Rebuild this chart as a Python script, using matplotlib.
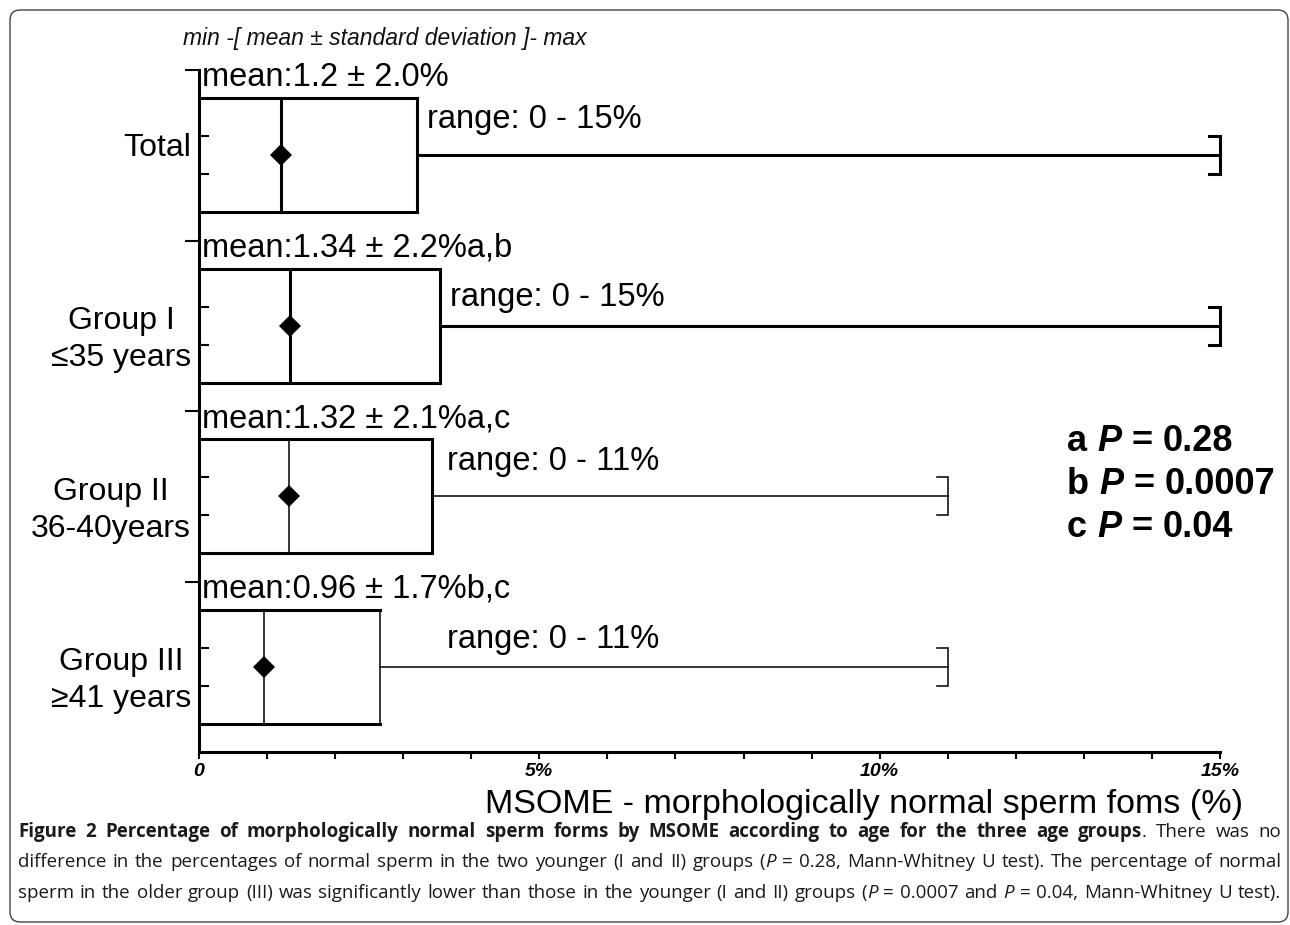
import re
import matplotlib
matplotlib.use('Agg')
import matplotlib.pyplot as plt
from matplotlib import font_manager
from matplotlib.patches import FancyBboxPatch
from matplotlib.ticker import MultipleLocator, FixedLocator
import matplotlib.transforms as mtransforms

# ---------------- data ----------------
groups = ['Total', 'Group I\n≤35 years', 'Group II\n36-40years', 'Group III\n≥41 years']
means = [1.2, 1.34, 1.32, 0.96]
sds = [2.0, 2.2, 2.1, 1.7]
mins = [0, 0, 0, 0]
maxs = [15, 15, 11, 11]
sig_letters = ['', 'a,b', 'a,c', 'b,c']
p_letters = ['a', 'b', 'c']
p_values = ['0.28', '0.0007', '0.04']
xtick_vals = [0, 5, 10, 15]
xtick_labels = ['0', '5%', '10%', '15%']
title_text = 'min -[ mean ± standard deviation ]- max'
xlabel_text = 'MSOME - morphologically normal sperm foms (%)'
caption_lines = [
    '<b>Figure 2 Percentage of morphologically normal sperm forms by MSOME according to age for the three age groups</b>. There was no',
    'difference in the percentages of normal sperm in the two younger (I and II) groups (<i>P</i> = 0.28, Mann-Whitney U test). The percentage of normal',
    'sperm in the older group (III) was significantly lower than those in the younger (I and II) groups (<i>P</i> = 0.0007 and <i>P</i> = 0.04, Mann-Whitney U test).',
]

# ---------------- fonts ----------------
avail = {f.name for f in font_manager.fontManager.ttflist}
def pick(*names):
    for n in names:
        if n in avail:
            return n
    return 'DejaVu Sans'
MAIN = pick('Liberation Sans', 'Arial', 'DejaVu Sans')
NARROW = pick('Liberation Sans Narrow', 'Liberation Sans')
CAP = pick('Open Sans', 'Noto Sans', 'DejaVu Sans')

W, H = 1290, 925
fig = plt.figure(figsize=(W / 100, H / 100), dpi=100)
fig.patch.set_facecolor('white')
ID = mtransforms.IdentityTransform()

# axes: x 0..15 from px 199 to 1220, y 0..4 from px 752 up to 70
ax = fig.add_axes([199 / W, 1 - 752 / H, (1220 - 199) / W, (752 - 70) / H])
ax.set_xlim(0, 15)
ax.set_ylim(0, len(groups))
ax.set_facecolor('none')
for s in ['top', 'right']:
    ax.spines[s].set_visible(False)
for s in ['left', 'bottom']:
    ax.spines[s].set_linewidth(2.2)

n = len(groups)
centers = [n - 0.5 - i for i in range(n)]
half_h = 0.335
cap_h = 0.111
stub = 11 / 68.07
heavy = [True, True, False, False]
right_heavy = [True, True, True, False]
range_dy = [27, 20, 26, 19]
range_x_fixed = [None, None, 3.64, 3.64]

for i in range(n):
    c = centers[i]
    lo = max(mins[i], means[i] - sds[i])
    hi = means[i] + sds[i]
    lw = 2.2 if heavy[i] else 1.1
    k = dict(color='black', solid_capstyle='projecting', clip_on=False)
    ax.plot([lo, hi], [c + half_h, c + half_h], lw=2.2, **k)
    ax.plot([lo, hi], [c - half_h, c - half_h], lw=2.2, **k)
    ax.plot([hi, hi], [c - half_h, c + half_h], lw=2.2 if right_heavy[i] else 1.1, **k)
    ax.plot([means[i], means[i]], [c - half_h, c + half_h], lw=lw, **k)
    ax.plot([hi, maxs[i]], [c, c], lw=lw, **k)
    ax.plot([maxs[i] - stub, maxs[i], maxs[i], maxs[i] - stub],
            [c + cap_h, c + cap_h, c - cap_h, c - cap_h], lw=lw, color='black',
            solid_joinstyle='miter', clip_on=False)
    ax.plot([means[i]], [c], marker='D', ms=11.5, color='black', mew=0, clip_on=False)

    mean_txt = f"mean:{means[i]:g} ± {sds[i]:.1f}%{sig_letters[i]}"
    ax.annotate(mean_txt, xy=(0, c + half_h), xytext=(3, 12), textcoords='offset pixels',
                ha='left', va='baseline', fontsize=23.5, family=MAIN)
    rng_txt = f"range: {mins[i]:g} - {maxs[i]:g}%"
    if range_x_fixed[i] is None:
        ax.annotate(rng_txt, xy=(hi, c), xytext=(10, range_dy[i]), textcoords='offset pixels',
                    ha='left', va='baseline', fontsize=23.5, family=MAIN)
    else:
        ax.annotate(rng_txt, xy=(range_x_fixed[i], c), xytext=(0, range_dy[i]),
                    textcoords='offset pixels', ha='left', va='baseline',
                    fontsize=23.5, family=MAIN)
    dy = 7 if '\n' not in groups[i] else -14
    ax.annotate(groups[i], xy=(0, c), xytext=(-8, dy), textcoords='offset pixels',
                ha='right', va='center', multialignment='center', fontsize=23,
                family=MAIN, linespacing=1.3)

# ticks
ax.xaxis.set_major_locator(FixedLocator(xtick_vals))
ax.set_xticklabels(xtick_labels, fontsize=14, family=NARROW, style='italic',
                   weight='bold')
ax.xaxis.set_minor_locator(MultipleLocator(1))
ax.tick_params(axis='x', which='both', direction='out', length=5, width=1.5, pad=3)
ax.yaxis.set_major_locator(FixedLocator([1, 2, 3, 4]))
ax.set_yticklabels([])
minor_y = []
for c in centers:
    minor_y += [c - cap_h, c + cap_h]
ax.yaxis.set_minor_locator(FixedLocator(minor_y))
ax.tick_params(axis='y', which='major', direction='out', length=10, width=1.5)
ax.tick_params(axis='y', which='minor', direction='in', length=7, width=1.5)

# titles
fig.text(183, H - 38, title_text, transform=ID, ha='left', va='center', fontsize=16.5,
         family=MAIN, style='italic', color='#111')
fig.text(1243, H - 804, xlabel_text, transform=ID, ha='right', va='center', fontsize=24.5,
         family=MAIN)

renderer = fig.canvas.get_renderer()

def parse_words(s):
    tokens = re.split(r'(<b>|</b>|<i>|</i>)', s)
    b = False; it = False
    chars = []
    for t in tokens:
        if t == '<b>': b = True
        elif t == '</b>': b = False
        elif t == '<i>': it = True
        elif t == '</i>': it = False
        else:
            chars += [(ch, b, it) for ch in t]
    words, cur = [], []
    for ch, bb, ii in chars:
        if ch == ' ':
            if cur:
                words.append(cur); cur = []
        else:
            if cur and cur[-1][1] == bb and cur[-1][2] == ii:
                cur[-1] = (cur[-1][0] + ch, bb, ii)
            else:
                cur.append((ch, bb, ii))
    if cur:
        words.append(cur)
    return words

def draw_words(s, x0, y, size, family, color, x1=None, base_bold=False):
    words = parse_words(s)
    made = []
    total = 0
    for w in words:
        runs = []
        ww = 0
        for txt, bb, ii in w:
            t = fig.text(0, y, txt, transform=ID, fontsize=size, family=family,
                         weight='bold' if (bb or base_bold) else 'normal',
                         style='italic' if ii else 'normal', color=color,
                         ha='left', va='baseline')
            wd = t.get_window_extent(renderer).width
            runs.append((t, wd))
            ww += wd
        made.append((runs, ww))
        total += ww
    if x1 is not None and len(made) > 1:
        gap = (x1 - x0 - total) / (len(made) - 1)
    else:
        t1 = fig.text(0, 0, 'x x', fontsize=size, family=family,
                      weight='bold' if base_bold else 'normal', transform=ID)
        t2 = fig.text(0, 0, 'xx', fontsize=size, family=family,
                      weight='bold' if base_bold else 'normal', transform=ID)
        gap = t1.get_window_extent(renderer).width - t2.get_window_extent(renderer).width
        t1.remove(); t2.remove()
    x = x0
    for runs, ww in made:
        for t, wd in runs:
            t.set_x(x)
            x += wd
        x += gap

# p-value block
for j in range(len(p_letters)):
    draw_words(f"{p_letters[j]} <i>P</i> = {p_values[j]}", 1067, H - (451 + 43 * j), 26,
               MAIN, 'black', base_bold=True)

# caption
cap_base = [837, 867, 898]
for j, line in enumerate(caption_lines):
    draw_words(line, 18, H - cap_base[j], 13.5, CAP, '#1a1a1a', x1=1281)

# frame
frame = FancyBboxPatch((10, 3), 1278, 912, boxstyle='round,pad=0,rounding_size=10',
                       transform=ID, fill=False, edgecolor='#444444', lw=1.0)
fig.add_artist(frame)

fig.savefig('out.png', dpi=100)
